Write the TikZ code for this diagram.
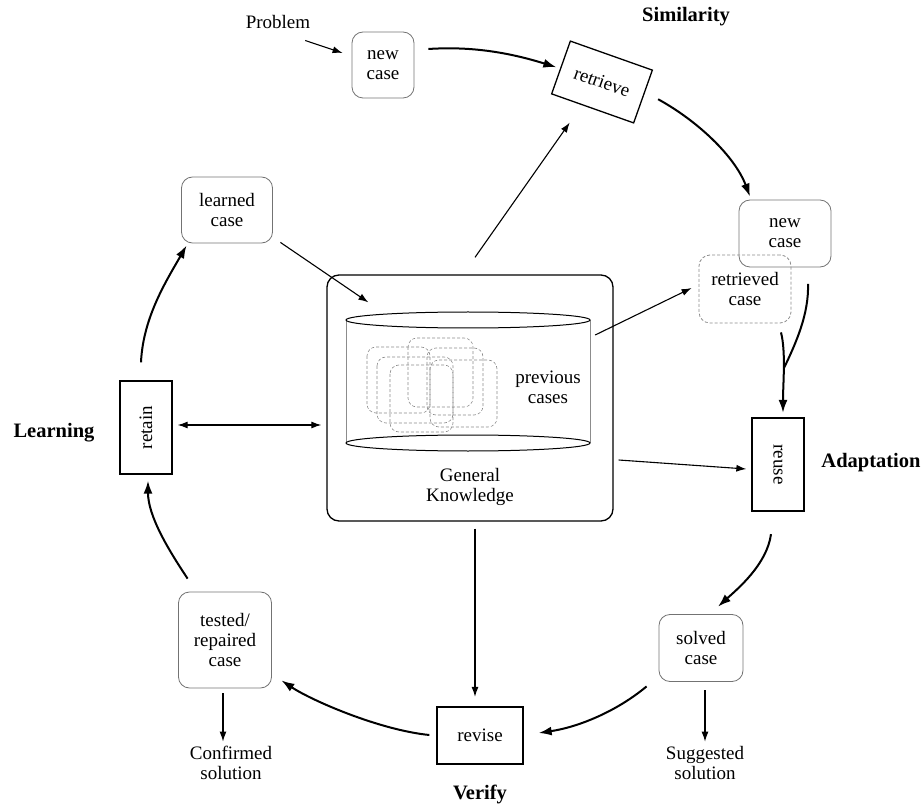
\documentclass[tikz,border=0pt]{standalone}
\usepackage{fontspec}
\usepackage{graphicx}
\setmainfont{Liberation Serif}
\usetikzlibrary{arrows.meta}
\begin{document}
\begin{tikzpicture}[x=1pt,y=-1pt,
  txt/.style={font=\fontsize{19}{20}\selectfont, align=center, inner sep=0pt},
  hdr/.style={font=\fontsize{20.5}{22}\selectfont\bfseries, inner sep=0pt},
  casebox/.style={txt, draw=black!55, line width=0.8pt, rounded corners=11pt},
  dcasebox/.style={casebox, draw=black!45, dash pattern=on 3pt off 2pt},
  stepbox/.style={txt, draw=black, line width=1.3pt},
  flow/.style={line width=1.1pt, -{Latex[length=10pt,width=7pt]}},
  loopflow/.style={line width=2pt, -{Latex[length=13pt,width=9pt]}},
  memo/.style={draw=black!45, line width=0.6pt, dash pattern=on 3pt off 2pt, rounded corners=9pt}
]
\useasboundingbox (0,0) rectangle (924,810);

% --- nodes of the cycle ---
\node[txt] (problem) at (278,22) {Problem};
\node[casebox, minimum width=62pt, minimum height=66pt] (nc1) at (383,65) {new\\case};
\node[stepbox, rotate=-19.5, minimum width=87pt, minimum height=56pt] (retrieve) at (602,82) {retrieve};
\node[hdr] (similarity) at (686,17) {Similarity};

\node[casebox, minimum width=91pt, minimum height=66pt] (learned) at (227,210) {learned\\case};
\node[stepbox, minimum width=52pt, minimum height=93pt] (retain) at (146,427.5) {\rotatebox{90}{retain}};
\node[hdr] (learning) at (54,433) {Learning};

% knowledge base
\node[draw, line width=1.3pt, rounded corners=12pt, minimum width=286pt, minimum height=246pt] (gk) at (470,398) {};
\node[minimum width=244pt, minimum height=123pt, inner sep=0pt] (db) at (468,381.5) {};
\draw[black!45, line width=0.6pt] (346,320) -- (346,443) (590,320) -- (590,443);
\draw[line width=1pt] (468,320) ellipse [x radius=122, y radius=8];
\draw[line width=1pt] (468,443) ellipse [x radius=122, y radius=8];
% stored cases
\draw[memo] (367,347) rectangle (430,413);
\draw[memo] (377,357) rectangle (453,423);
\draw[memo] (390,365) rectangle (453,432);
\draw[memo] (408,338) rectangle (473,407);
\draw[memo] (427,348) rectangle (483,415);
\draw[memo] (430,360) rectangle (497,427);
\node[txt] (prev) at (548,387) {previous\\cases};
\node[txt] (genk) at (470,487) {General\\Knowledge};

\node[casebox, minimum width=92pt, minimum height=67pt] (nc2) at (785,233.5) {new\\case};
\node[dcasebox, minimum width=92pt, minimum height=68pt] (rc) at (745,289) {retrieved\\case};

\node[stepbox, minimum width=52pt, minimum height=93pt] (reuse) at (778,464.5) {\rotatebox{-90}{reuse}};
\node[hdr] (adaptation) at (871,463) {Adaptation};

\node[casebox, minimum width=84pt, minimum height=67pt] (solved) at (701,648) {solved\\case};
\node[txt] (suggested) at (705,763) {Suggested\\solution};

\node[stepbox, minimum width=86pt, minimum height=57pt] (revise) at (480,735.5) {revise};
\node[hdr] (verify) at (480,794) {Verify};

\node[casebox, minimum width=93pt, minimum height=96pt] (tested) at (225,640) {tested/\\repaired\\case};
\node[txt] (confirmed) at (231,763) {Confirmed\\solution};

% --- connectors ---
\draw[flow] ([shift={(-5.2,11.6)}]problem.south east) -- ([shift={(-9,-12)}]nc1.west);
\draw[loopflow] ([shift={(14,-16)}]nc1.east) .. controls +(45,-3) and +(-45,-14) .. ([xshift=-4pt]retrieve.west);
\draw[loopflow] ([shift={(14.5,2.5)}]retrieve.east) .. controls +(40,22) and +(-15,-40) .. ([shift={(-35,-3)}]nc2.north);
\draw[flow] ([shift={(5,-17)}]gk.north) -- ([shift={(-22.7,13.6)}]retrieve.south);
\draw[flow] ([shift={(7.5,-1)}]learned.south east) -- ([shift={(42,28)}]gk.north west);
\draw[flow] ([shift={(5,-46.5)}]db.east) -- ([shift={(-7,-1)}]rc.west);
\draw[line width=1.1pt, {Latex[length=10pt,width=7pt]}-{Latex[length=10pt,width=7pt]}] ([shift={(5,-2.5)}]retain.east) -- ([shift={(-5,27)}]gk.west);
\draw[flow] ([shift={(5,62)}]gk.east) -- ([shift={(-5,4.5)}]reuse.west);
\draw[flow] ([shift={(5,7)}]gk.south) -- ([shift={(-5,-9.5)}]revise.north);

\coordinate (merge) at (784,368);
\draw[line width=2pt] ([shift={(23,16.5)}]nc2.south) .. controls +(1,30) and +(12,-25) .. (merge);
\draw[loopflow] ([shift={(36,9)}]rc.south) .. controls +(5,20) and +(0,-30) .. ([shift={(5,-4.5)}]reuse.north);

\draw[loopflow] ([shift={(-7,22.5)}]reuse.south) .. controls +(-4,30) and +(20,-18) .. ([shift={(17,-7.5)}]solved.north);
\draw[flow] ([shift={(4,8.5)}]solved.south) -- ([shift={(0,-4.5)}]suggested.north);
\draw[loopflow] ([shift={(-12,4.5)}]solved.south west) .. controls +(-30,25) and +(40,-6) .. ([shift={(15,-2.5)}]revise.east);
\draw[loopflow] ([shift={(-7,-0.5)}]revise.west) .. controls +(-50,-5) and +(30,20) .. ([shift={(9.5,-8)}]tested.south east);
\draw[flow] ([shift={(-2,5)}]tested.south) -- ([shift={(-8,-4.5)}]confirmed.north);
\draw[loopflow] ([shift={(9.5,-13)}]tested.north west) .. controls +(-20,-30) and +(0,35) .. ([shift={(2,6)}]retain.south);
\draw[loopflow] ([shift={(-5,-18)}]retain.north) .. controls +(2,-45) and +(-20,35) .. ([shift={(5.5,2)}]learned.south west);
\end{tikzpicture}
\end{document}
